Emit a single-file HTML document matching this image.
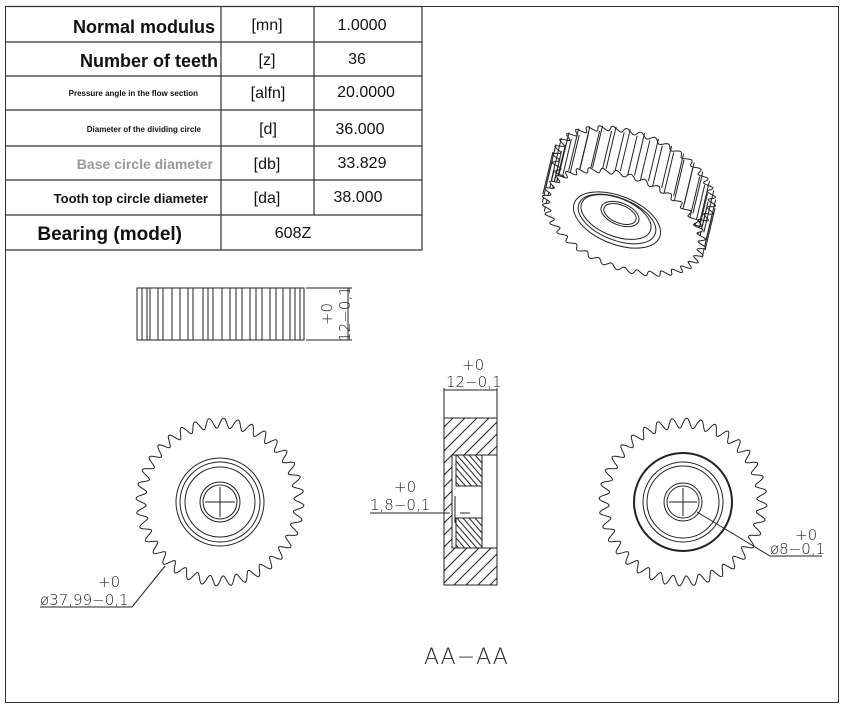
<!DOCTYPE html>
<html><head><meta charset="utf-8"><style>
body{margin:0;background:#fff;width:845px;height:705px;overflow:hidden;font-family:"Liberation Sans",sans-serif}
svg{position:absolute;left:0;top:0}
</style></head><body>
<svg width="845" height="705" style="pointer-events:none"><defs>
<clipPath id="c1"><path d="M444,418H497V455H452V548H497V585H444Z"/></clipPath>
<clipPath id="c2"><path d="M456,455H482V486H456Z M456,518H482V548H456Z"/></clipPath>
</defs></svg>
<svg id="s" width="845" height="705" viewBox="0 0 845 705" font-family="Liberation Sans, sans-serif">
<rect x="5.5" y="6.5" width="833" height="696" fill="none" stroke="#333" stroke-width="1"/>
<g stroke="#333" stroke-width="1.2" fill="none">
<line x1="5" y1="6.5" x2="422" y2="6.5"/>
<line x1="5" y1="42" x2="422" y2="42"/><line x1="5" y1="76" x2="422" y2="76"/>
<line x1="5" y1="110" x2="422" y2="110"/><line x1="5" y1="146" x2="422" y2="146"/>
<line x1="5" y1="180" x2="422" y2="180"/><line x1="5" y1="215" x2="422" y2="215"/>
<line x1="5" y1="250" x2="422" y2="250"/>
<line x1="221" y1="6" x2="221" y2="250"/><line x1="314" y1="6" x2="314" y2="215"/>
<line x1="422" y1="6" x2="422" y2="250"/>
</g>
<g font-weight="bold" fill="#111" text-anchor="end">
<text x="215" y="33" font-size="18">Normal modulus</text>
<text x="218" y="67" font-size="18">Number of teeth</text>
<text x="198" y="96" font-size="8">Pressure angle in the flow section</text>
<text x="201" y="132" font-size="8">Diameter of the dividing circle</text>
<text x="213" y="169" font-size="14" fill="#999">Base circle diameter</text>
<text x="208" y="203" font-size="13">Tooth top circle diameter</text>
<text x="182" y="240" font-size="19">Bearing (model)</text>
</g>
<g font-size="16" fill="#111" text-anchor="middle">
<text x="267" y="30">[mn]</text><text x="362" y="30">1.0000</text>
<text x="267" y="65">[z]</text><text x="357" y="64">36</text>
<text x="268" y="98">[alfn]</text><text x="366" y="97">20.0000</text>
<text x="268" y="134">[d]</text><text x="360" y="134">36.000</text>
<text x="267" y="169">[db]</text><text x="362" y="168">33.829</text>
<text x="267" y="203">[da]</text><text x="358" y="202">38.000</text>
<text x="293" y="238">608Z</text>
</g>
<g id="g" stroke="#222" stroke-width="1" fill="none"></g>
<g stroke="#222" stroke-width="1" fill="none">
<rect x="137" y="288" width="167" height="52"/>
<line x1="306" y1="288" x2="352" y2="288"/><line x1="306" y1="340" x2="352" y2="340"/>
<line x1="348" y1="288" x2="348" y2="340"/>
<rect x="444" y="418" width="53" height="167"/>
<line x1="444" y1="388" x2="444" y2="418"/><line x1="497" y1="388" x2="497" y2="418"/>
<line x1="444" y1="390" x2="497" y2="390"/>
<rect x="452" y="455" width="45" height="93" fill="#fff"/>
<rect x="456" y="455" width="26" height="31"/><rect x="456" y="518" width="26" height="30"/>
<line x1="482" y1="455" x2="482" y2="548"/>
<line x1="370" y1="513" x2="450" y2="513"/><line x1="460" y1="513" x2="470" y2="513"/>
<line x1="455" y1="496" x2="455" y2="523"/>
<polyline points="40,607 132,607 165,566"/>
<polyline points="822,556 770,556 697,512"/>
<line x1="205" y1="502" x2="235" y2="502"/><line x1="220" y1="487" x2="220" y2="517"/>
<line x1="669" y1="502" x2="697" y2="502"/><line x1="683" y1="488" x2="683" y2="516"/>
</g>
<g id="h" stroke="#222" stroke-width="1" fill="none"></g>
<g font-size="15" fill="#222" font-family="DejaVu Sans, sans-serif" font-weight="200">
<text x="98" y="587">+0</text><text x="40" y="605">ø37,99−0,1</text>
<text x="795" y="540">+0</text><text x="770" y="554">ø8−0,1</text>
<text x="394" y="492">+0</text><text x="370" y="510">1,8−0,1</text>
<text x="462" y="370">+0</text><text x="446" y="387">12−0,1</text>
<text transform="translate(332,314) rotate(-90)" text-anchor="middle">+0</text>
<text transform="translate(350,314) rotate(-90)" text-anchor="middle">12−0,1</text>
<text x="424" y="664" font-size="22" letter-spacing="1">AA−AA</text>
</g>
</svg>
<script>
var g=document.getElementById('g'),h=document.getElementById('h'),NS='http://www.w3.org/2000/svg';
function el(t,a,p){var e=document.createElementNS(NS,t);for(var k in a)e.setAttribute(k,a[k]);(p||g).appendChild(e);return e;}
function pt(cx,cy,r,t,sx,sy,rot){var x=r*Math.cos(t)*sx,y=r*Math.sin(t)*sy,c=Math.cos(rot),s=Math.sin(rot);return [cx+x*c-y*s,cy+x*s+y*c];}
function gear(cx,cy,R,a,sx,sy,rot){var d='';for(var i=0;i<=720;i++){var t=i/720*2*Math.PI,r=R+a*Math.sin(36*t);var p=pt(cx,cy,r,t,sx,sy,rot);d+=(i?'L':'M')+p[0].toFixed(1)+','+p[1].toFixed(1);}return d+'Z';}
el('path',{d:gear(220,502,79,5,1,1,0)});
el('path',{d:gear(683,502,79,5,1,1,0)});
[44,40,35,20,17].forEach(function(r){el('circle',{cx:220,cy:502,r:r});});
el('circle',{cx:683,cy:502,r:49,'stroke-width':2});
[40,36,19,16].forEach(function(r){el('circle',{cx:683,cy:502,r:r});});
var xs=[142,147,150,158,163,172,180,188,193,203,208,213,222,230,236,242,250,256,262,270,276,283,290,295,300];
xs.forEach(function(x){el('line',{x1:x,y1:288,x2:x,y2:340});});
for(var k=-200;k<200;k+=12){el('line',{x1:444,y1:418+k+53,x2:497,y2:418+k,'clip-path':'url(#c1)'},h);}
for(var k=-120;k<120;k+=7){el('line',{x1:456,y1:455+k,x2:482,y2:455+k+30,'clip-path':'url(#c2)'},h);}
var rot=0.38,cx=624,cy=222,dx=10,dy=-42;
el('path',{d:gear(cx+dx,cy+dy,82,4,1,0.55,rot)});
for(var i=0;i<72;i++){var t=i/72*2*Math.PI;var r=(i%2)?86:78;var p=pt(cx,cy,r,t,1,0.55,rot);var s=Math.sin(t);if(s<0.15||Math.cos(t)<-0.85){el('line',{x1:p[0],y1:p[1],x2:p[0]+dx,y2:p[1]+dy});}}
el('path',{d:gear(cx,cy,82,4,1,0.55,rot),fill:'#fff'});
el('ellipse',{cx:617,cy:220,rx:46,ry:24,transform:'rotate(22 617 220)'});
el('ellipse',{cx:617,cy:219,rx:41,ry:21,transform:'rotate(22 617 219)'});
el('ellipse',{cx:616,cy:217,rx:37,ry:19,transform:'rotate(22 616 217)'});
el('ellipse',{cx:620,cy:214,rx:20,ry:11,transform:'rotate(22 620 214)'});
el('ellipse',{cx:620,cy:214,rx:17,ry:9,transform:'rotate(22 620 214)'});
</script>
</body></html>
